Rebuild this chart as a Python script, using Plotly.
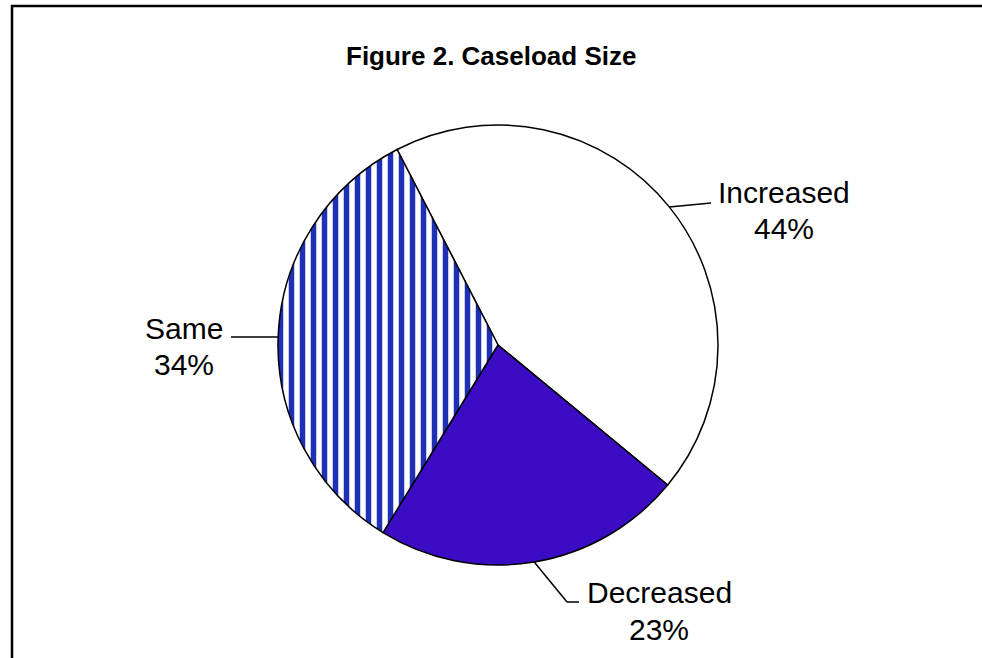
import math
import plotly.graph_objects as go

# ---- data ----
categories = ["Increased", "Decreased", "Same"]
values = [44, 23, 34]
title_text = "Figure 2. Caseload Size"

# ---- style ----
W, H = 982, 658
FONT = "Liberation Sans, Arial, sans-serif"
slice_colors = ["#FFFFFF", "#3B0CC4", "#FFFFFF"]
pattern_shapes = ["", "", "|"]
pattern_fg = ["#000000", "#000000", "#1E30B6"]
rotation = -27.3
cx, cy, r = 498, 345, 220  # pie centre / radius in pixels
# label placement (pixels): name centre, percent centre, leader end, optional elbow
label_style = {
    "Increased": dict(name=(784, 192), pct=(784, 228), end=(711, 203), elbow=None),
    "Decreased": dict(name=(659, 592), pct=(659, 629), end=(579, 602), elbow=(567, 602)),
    "Same": dict(name=(184, 328), pct=(184, 364), end=(231, 337), elbow=None),
}


def px(x, y):
    return x / W, 1 - y / H


fig = go.Figure(
    go.Pie(
        labels=categories,
        values=values,
        sort=False,
        direction="clockwise",
        rotation=rotation,
        textinfo="none",
        hoverinfo="label+percent",
        marker=dict(
            colors=slice_colors,
            line=dict(color="black", width=1.5),
            pattern=dict(
                shape=pattern_shapes,
                fgcolor=pattern_fg,
                bgcolor=slice_colors,
                size=11,
                solidity=0.5,
            ),
        ),
        domain=dict(
            x=[(cx - r) / W, (cx + r) / W],
            y=[1 - (cy + r) / H, 1 - (cy - r) / H],
        ),
        showlegend=False,
    )
)

shapes = []
annotations = []
total = sum(values)
start = rotation
for cat, v in zip(categories, values):
    span = 360 * v / total
    mid = math.radians(start + span / 2)
    start += span
    ex, ey = cx + r * math.sin(mid), cy - r * math.cos(mid)
    st = label_style[cat]
    pts = [(ex, ey)]
    if st["elbow"]:
        pts.append(st["elbow"])
    pts.append(st["end"])
    for (x0, y0), (x1, y1) in zip(pts[:-1], pts[1:]):
        a0, b0 = px(x0, y0)
        a1, b1 = px(x1, y1)
        shapes.append(dict(type="line", xref="paper", yref="paper",
                           x0=a0, y0=b0, x1=a1, y1=b1,
                           line=dict(color="black", width=1.5)))
    for txt, pos in ((cat, st["name"]), (f"{v}%", st["pct"])):
        ax, ay = px(*pos)
        annotations.append(dict(text=txt, x=ax, y=ay, xref="paper", yref="paper",
                                xanchor="center", yanchor="middle", showarrow=False,
                                font=dict(family=FONT, size=30, color="black")))

# title
tx, ty = px(491, 56)
annotations.append(dict(text=f"<b>{title_text}</b>", x=tx, y=ty, xref="paper", yref="paper",
                        xanchor="center", yanchor="middle", showarrow=False,
                        font=dict(family=FONT, size=26, color="black")))

# outer frame (top & left visible, rest runs off the page)
bx0, by1 = px(12, 6)
shapes.append(dict(type="rect", xref="paper", yref="paper",
                   x0=bx0, y0=-0.1, x1=1.1, y1=by1,
                   line=dict(color="black", width=2.5), fillcolor="rgba(0,0,0,0)"))

fig.update_layout(
    width=W, height=H,
    margin=dict(l=0, r=0, t=0, b=0),
    paper_bgcolor="white",
    plot_bgcolor="white",
    shapes=shapes,
    annotations=annotations,
)

fig.write_html("out.html", config={"displayModeBar": False},
               post_script="document.body.style.margin='0';document.body.style.overflow='hidden';")
